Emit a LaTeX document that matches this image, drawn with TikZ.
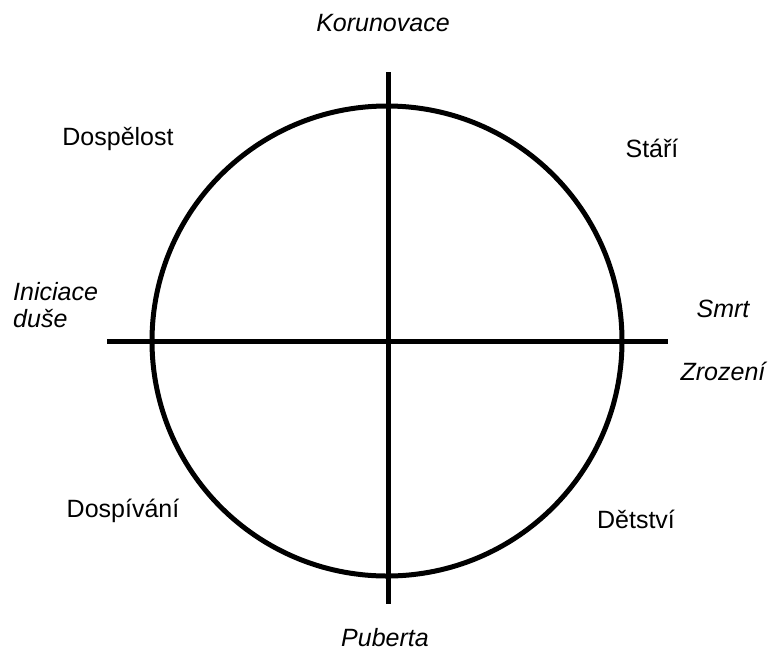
\documentclass[tikz,border=0pt]{standalone}
\usepackage{fontspec}
\setmainfont{Liberation Sans}
\usetikzlibrary{positioning}

\begin{document}
\begin{tikzpicture}[
  x=1pt, y=-1pt,
  stagestyle/.style={anchor=base, inner sep=0pt, font=\fontsize{25}{27}\selectfont},
  eventstyle/.style={stagestyle, font=\fontsize{25}{27}\selectfont\itshape},
  axisline/.style={line width=5pt, black},
  wheel/.style={line width=5pt, black}
]
  \useasboundingbox (0,0) rectangle (770,651);

  % wheel and its cross
  \coordinate (C) at (387,341);
  \coordinate (N) at (388,72);
  \coordinate (S) at (388,604);
  \coordinate (W) at (107,341);
  \coordinate (E) at (668,341);
  \draw[wheel] (C) circle[radius=235pt];
  \draw[axisline] (N) -- (S);
  \draw[axisline] (W) -- (E);

  % turning points
  \node[eventstyle] (korun) at (383,31) {Korunovace};
  \node[eventstyle] (pub)   at (385,646) {Puberta};
  \node[eventstyle] (smrt)  at (723,317) {Smrt};
  \node[eventstyle] (zroz)  at (723,380) {Zrození};
  \node[eventstyle, anchor=base west, align=left] (inic) at (13,327) {Iniciace\\duše};

  % stages of life
  \node[stagestyle] (dosp)   at (118,145) {Dospělost};
  \node[stagestyle] (stari)  at (652,157) {Stáří};
  \node[stagestyle] (dospiv) at (123,517) {Dospívání};
  \node[stagestyle] (detst)  at (636,528) {Dětství};
\end{tikzpicture}
\end{document}
